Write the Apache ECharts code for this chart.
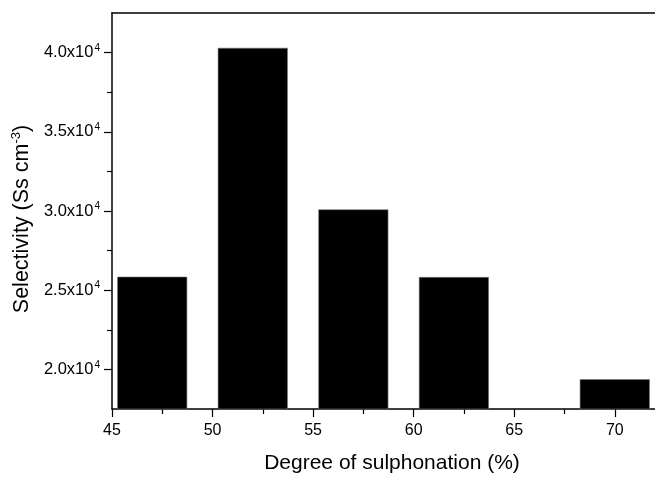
<!DOCTYPE html>
<html>
<head>
<meta charset="utf-8">
<script src="https://cdn.jsdelivr.net/npm/echarts@6/dist/echarts.min.js"></script>
<style>html,body{margin:0;padding:0;background:#fff;}#c{width:655px;height:479px;}</style>
</head>
<body>
<div id="c"></div>
<script>
var xValues = [47, 52, 57, 62, 70];
var selectivity = [25850, 40300, 30100, 25830, 19380];
var xMajorTicks = [45, 50, 55, 60, 65, 70];
var xMinorTicks = [47.5, 52.5, 57.5, 62.5, 67.5];
var yMajorTicks = [20000, 25000, 30000, 35000, 40000];
var yMinorTicks = [22500, 27500, 32500, 37500];
var xTitle = 'Degree of sulphonation (%)';
var yTitle = 'Selectivity (Ss cm{s|-3})';

var FONT = 'Liberation Sans, Arial, sans-serif';
var black = '#000';

function yLabel(v) {
  return '{b|' + (v / 10000).toFixed(1) + 'x10}{s|4}';
}

var chart = echarts.init(document.getElementById('c'), null, {renderer: 'canvas'});
chart.setOption({
  animation: false,
  backgroundColor: '#fff',
  grid: {left: 112, right: 0, top: 13, bottom: 62.5, containLabel: false},
  xAxis: [
    {
      type: 'value', min: 45, max: 72, interval: 5, position: 'bottom',
      axisLine: {show: true, onZero: false, lineStyle: {color: black, width: 1.5}},
      axisTick: {show: true, length: 8, inside: false, customValues: xMajorTicks, lineStyle: {color: black, width: 1.2}},
      axisLabel: {show: true, customValues: xMajorTicks, margin: 14, fontSize: 16, color: black, fontFamily: FONT},
      splitLine: {show: false},
      name: xTitle, nameLocation: 'middle', nameGap: 44,
      nameTextStyle: {fontSize: 21, color: black, fontFamily: FONT, padding: [0, 0, 0, 17]}
    },
    {
      type: 'value', min: 45, max: 72, interval: 5, position: 'bottom',
      axisLine: {show: false, onZero: false},
      axisTick: {show: true, length: 5, customValues: xMinorTicks, lineStyle: {color: black, width: 1.2}},
      axisLabel: {show: false},
      splitLine: {show: false}
    },
    {
      type: 'value', min: 45, max: 72, interval: 5, position: 'top',
      axisLine: {show: true, onZero: false, lineStyle: {color: black, width: 1.5}},
      axisTick: {show: false},
      axisLabel: {show: false},
      splitLine: {show: false}
    }
  ],
  yAxis: [
    {
      type: 'value', min: 17500, max: 42500, interval: 2500, position: 'left',
      axisLine: {show: true, onZero: false, lineStyle: {color: black, width: 1.5}},
      axisTick: {show: true, length: 8, customValues: yMajorTicks, lineStyle: {color: black, width: 1.2}},
      axisLabel: {
        show: true, customValues: yMajorTicks, margin: 12, formatter: yLabel,
        rich: {
          b: {fontSize: 16.5, color: black, fontFamily: FONT, lineHeight: 19},
          s: {fontSize: 10, color: black, fontFamily: FONT, verticalAlign: 'top', lineHeight: 19, padding: [0, 0, 0, 1]}
        }
      },
      splitLine: {show: false},
      name: yTitle, nameLocation: 'middle', nameGap: 76, nameRotate: 90,
      nameTextStyle: {
        fontSize: 21.5, color: black, fontFamily: FONT, padding: [0, 16, 0, 0],
        rich: {s: {fontSize: 13, color: black, fontFamily: FONT, verticalAlign: 'top', lineHeight: 24}}
      }
    },
    {
      type: 'value', min: 17500, max: 42500, interval: 2500, position: 'left',
      axisLine: {show: false, onZero: false},
      axisTick: {show: true, length: 5, customValues: yMinorTicks, lineStyle: {color: black, width: 1.2}},
      axisLabel: {show: false},
      splitLine: {show: false}
    }
  ],
  series: [{
    type: 'bar',
    xAxisIndex: 0, yAxisIndex: 0,
    barWidth: 70,
    clip: true,
    itemStyle: {color: '#000', borderColor: '#777', borderWidth: 0.6},
    data: xValues.map(function (x, i) { return [x, selectivity[i]]; })
  }]
});
</script>
</body>
</html>
